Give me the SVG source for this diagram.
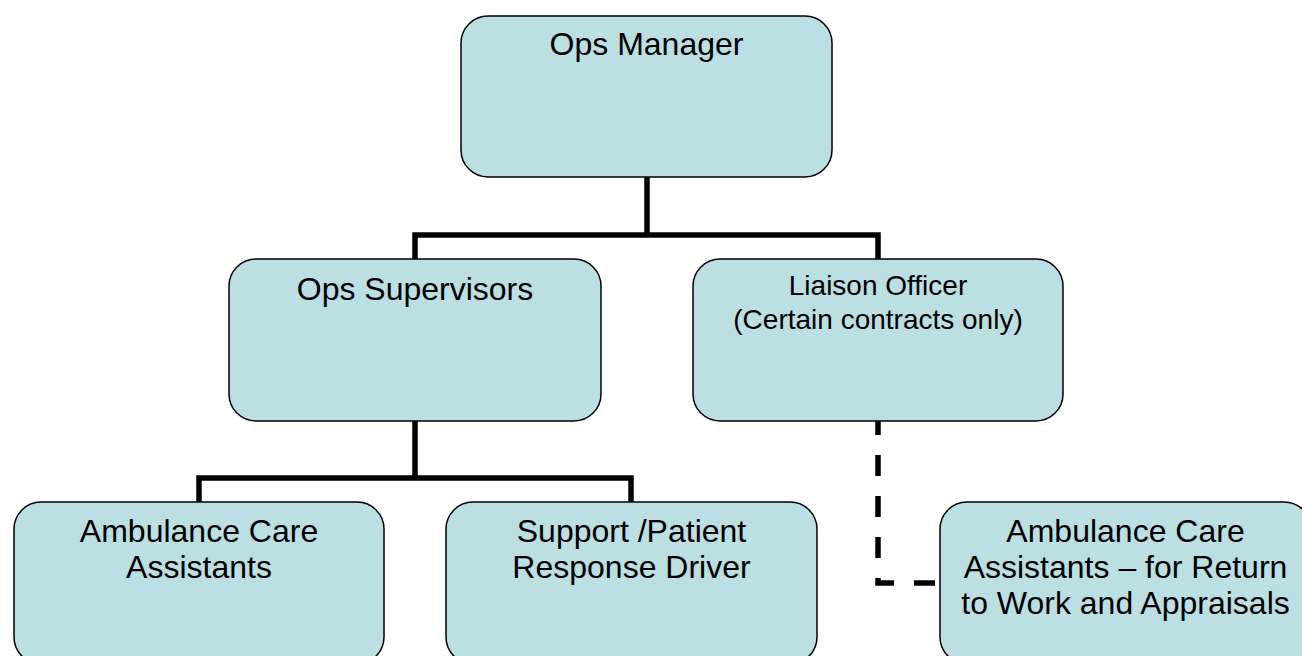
<svg xmlns="http://www.w3.org/2000/svg" width="1302" height="656" viewBox="0 0 1302 656">
<style>
.box{fill:#BBDFE3;stroke:#000;stroke-width:1.5}
.t{font-family:"Liberation Sans",Arial,sans-serif;font-size:32px;fill:#000;text-anchor:middle}
.ts{font-size:28px}
.c{fill:none;stroke:#000;stroke-width:5.5}
.d{stroke-dasharray:21 20;stroke-dashoffset:7}
</style>
<rect width="1302" height="656" fill="#fff"/>
<g id="connectors">
<path class="c" d="M647 177V235M415 259V235H878V259"/>
<path class="c" d="M415 421V478M199 502V478H631V502"/>
<path class="c d" d="M878 421V583H940"/>
</g>
<g id="ops-manager">
<rect class="box" x="461" y="16" width="371" height="161" rx="27"/>
<text class="t" x="646.5" y="55">Ops Manager</text>
</g>
<g id="ops-supervisors">
<rect class="box" x="229" y="259" width="372" height="162" rx="27"/>
<text class="t" x="415" y="300">Ops Supervisors</text>
</g>
<g id="liaison-officer">
<rect class="box" x="693" y="259" width="370" height="162" rx="27"/>
<text class="t ts" x="878" y="295">Liaison Officer</text>
<text class="t ts" x="878" y="329">(Certain contracts only)</text>
</g>
<g id="aca">
<rect class="box" x="14" y="502" width="370" height="162" rx="27"/>
<text class="t" x="199" y="542">Ambulance Care</text>
<text class="t" x="199" y="578">Assistants</text>
</g>
<g id="support-driver">
<rect class="box" x="446" y="502" width="371" height="162" rx="27"/>
<text class="t" x="631.5" y="542">Support /Patient</text>
<text class="t" x="631.5" y="578">Response Driver</text>
</g>
<g id="aca-return">
<rect class="box" x="940" y="502" width="371" height="162" rx="27"/>
<text class="t" x="1125.5" y="542">Ambulance Care</text>
<text class="t" x="1125.5" y="578">Assistants – for Return</text>
<text class="t" x="1125.5" y="614">to Work and Appraisals</text>
</g>
</svg>
